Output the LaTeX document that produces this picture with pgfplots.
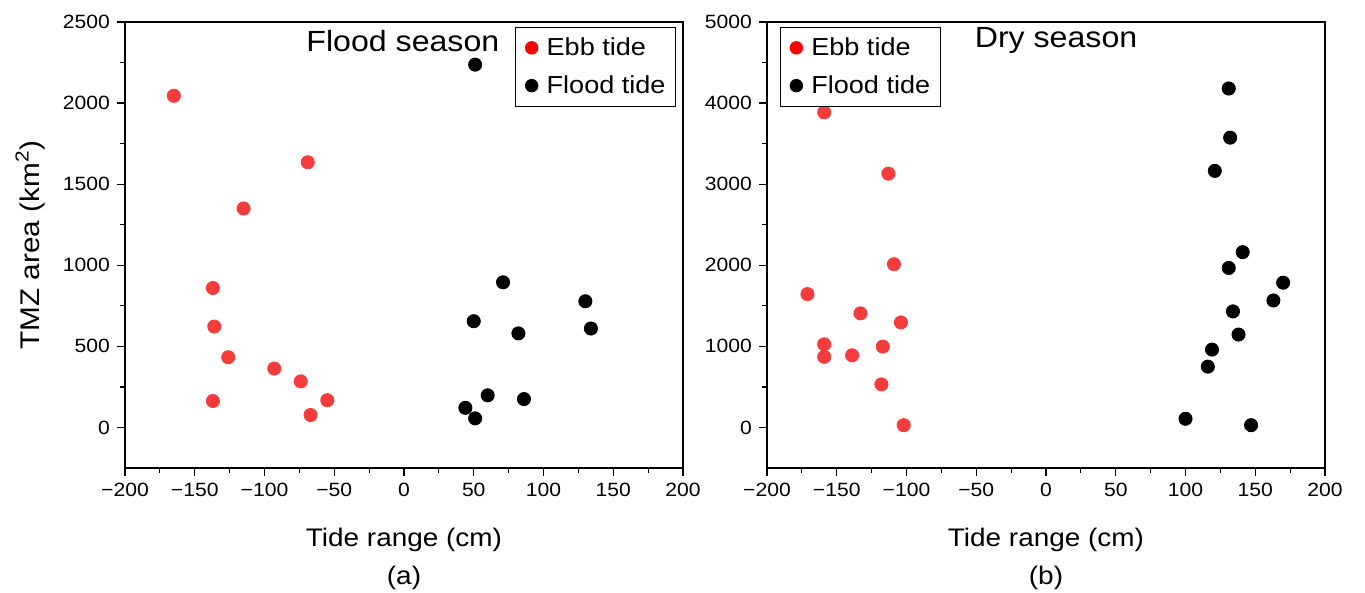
\documentclass[border=0pt]{standalone}
\usepackage{pgfplots}
\pgfplotsset{compat=1.18}
\usepackage{fontspec}
\setmainfont{Liberation Sans}[FakeStretch=1.1]
\definecolor{ebb}{RGB}{245,60,60}
\begin{document}
\begin{tikzpicture}
\path[use as bounding box] (-62.5pt,-62.5pt) rectangle (620pt,234pt);
\pgfplotsset{
 myaxis/.style={
  scale only axis, width=279pt, height=223pt,
  xmin=-200, xmax=200,
  xtick={-200,-150,...,200},
  xticklabels={−200,−150,−100,−50,0,50,100,150,200},
  minor x tick num=1, minor y tick num=1,
  tick align=outside, xtick pos=left, ytick pos=left,
  major tick length=4pt, minor tick length=2.5pt,
  tick style={black, line width=0.6pt},
  axis line style={line width=0.6pt},
  ticklabel style={font=\fontsize{9.6}{11}\selectfont},
  /pgf/number format/assume math mode=true,
  /pgf/number format/1000 sep={},
  scaled y ticks=false,
  legend style={font=\fontsize{12.3}{15}\selectfont, draw=black, line width=0.5pt,
    inner xsep=3pt, inner ysep=3pt, row sep=4.5pt},
  legend cell align=left,
  xlabel={Tide range (cm)},
  xlabel style={at={(axis description cs:0.5,0)}, anchor=center, yshift=-36pt, font=\fontsize{12.7}{15}\selectfont},
  clip=false,
 },
 ebbleg/.style={legend image code/.code={\path[draw=none,fill=none] (0pt,0pt) -- (10.5pt,0pt); \fill[red] (5pt,0pt) circle (3.1pt);}},
 floodleg/.style={legend image code/.code={\path[draw=none,fill=none] (0pt,0pt) -- (10.5pt,0pt); \fill[black] (5pt,0pt) circle (3.1pt);}},
}
\begin{axis}[myaxis, ymin=-250, ymax=2500, ytick={0,500,...,2500},
  ylabel={TMZ area (km\textsuperscript{2})},
  ylabel style={at={(axis description cs:-0.17,0.5)}, anchor=center, font=\fontsize{13.5}{16}\selectfont},
  legend style={at={(axis description cs:0.9875,0.989)}, anchor=north east}]
\addlegendimage{ebbleg}
\addlegendentry{Ebb tide}
\addlegendimage{floodleg}
\addlegendentry{Flood tide}
\addplot[only marks, mark=*, mark size=3.3pt, color=ebb, forget plot] coordinates {
(-165,2045) (-69,1635) (-115,1350) (-137,860) (-136,622) (-126,433)
(-93,363) (-74,284) (-137,163) (-55,168) (-67,77)};
\addplot[only marks, mark=*, mark size=3.3pt, color=black, forget plot] coordinates {
(51,2237) (71,895) (130,778) (50,655) (82,580) (134,610)
(60,198) (86,175) (44,121) (51,56)};
\node[font=\fontsize{14.6}{17}\selectfont] at (axis description cs:0.498,0.958) {Flood season};
\node[font=\fontsize{12.7}{15}\selectfont, yshift=-55pt] at (axis description cs:0.5,0) {(a)};
\end{axis}
\begin{axis}[myaxis, at={(321pt,0pt)}, ymin=-500, ymax=5000, ytick={0,1000,...,5000},
  legend style={at={(axis description cs:0.023,0.989)}, anchor=north west}]
\addlegendimage{ebbleg}
\addlegendentry{Ebb tide}
\addlegendimage{floodleg}
\addlegendentry{Flood tide}
\addplot[only marks, mark=*, mark size=3.3pt, color=ebb, forget plot] coordinates {
(-159,3886) (-113,3130) (-109,2013) (-171,1645) (-133,1407) (-104,1295)
(-159,1025) (-117,997) (-159,871) (-139,890) (-118,531) (-102,28)};
\addplot[only marks, mark=*, mark size=3.3pt, color=black, forget plot] coordinates {
(131,4180) (132,3574) (121,3164) (141,2162) (131,1967) (170,1785)
(163,1566) (134,1431) (138,1146) (119,960) (116,750) (100,107) (147,28)};
\node[font=\fontsize{14.6}{17}\selectfont] at (axis description cs:0.518,0.958) {Dry season};
\node[font=\fontsize{12.7}{15}\selectfont, yshift=-55pt] at (axis description cs:0.5,0) {(b)};
\end{axis}
\end{tikzpicture}
\end{document}
